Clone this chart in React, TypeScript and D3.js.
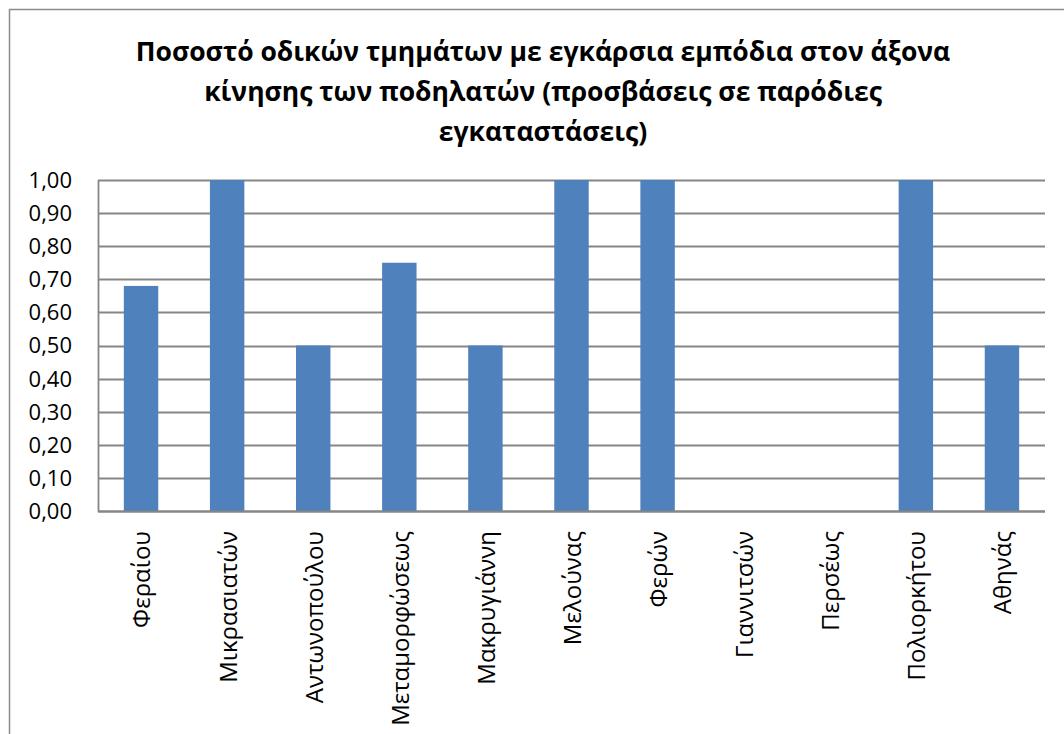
import { useEffect, useRef } from 'react';
import * as d3 from 'd3';

const categories = [
  'Φεραίου',
  'Μικρασιατών',
  'Αντωνοπούλου',
  'Μεταμορφώσεως',
  'Μακρυγιάννη',
  'Μελούνας',
  'Φερών',
  'Γιαννιτσών',
  'Περσέως',
  'Πολιορκήτου',
  'Αθηνάς',
];

const values = [0.68, 1.0, 0.5, 0.75, 0.5, 1.0, 1.0, 0, 0, 1.0, 0.5];

const yTicks = [0, 0.1, 0.2, 0.3, 0.4, 0.5, 0.6, 0.7, 0.8, 0.9, 1.0];

const titleLines = [
  'Ποσοστό οδικών τμημάτων με εγκάρσια εμπόδια στον άξονα',
  'κίνησης των ποδηλατών (προσβάσεις σε παρόδιες',
  'εγκαταστάσεις)',
];

const WIDTH = 1064;
const HEIGHT = 734;
const FONT = '"Open Sans", "Noto Sans", sans-serif';

const App = () => {
  const svgRef = useRef<SVGSVGElement>(null);

  useEffect(() => {
    if (!svgRef.current) return;
    const svg = d3.select(svgRef.current);
    svg.selectAll('*').remove();

    const plot = { left: 98, right: 1045, top: 180, bottom: 511 };

    // outer chart frame (runs off the right / bottom edges)
    svg.append('rect')
      .attr('x', 9.5)
      .attr('y', 9.5)
      .attr('width', WIDTH + 20)
      .attr('height', HEIGHT + 20)
      .attr('fill', 'white')
      .attr('stroke', '#8c8c8c')
      .attr('stroke-width', 1.5);

    // title
    svg.append('g')
      .selectAll('text')
      .data(titleLines)
      .enter().append('text')
      .attr('x', 543)
      .attr('y', (d, i) => 61 + i * 40)
      .attr('text-anchor', 'middle')
      .style('font-family', FONT)
      .style('font-size', '26.5px')
      .style('font-weight', 700)
      .style('fill', '#000')
      .text(d => d);

    const x = d3.scaleBand<string>()
      .domain(categories)
      .range([plot.left, plot.right])
      .paddingInner(0.6)
      .paddingOuter(0.3);

    const y = d3.scaleLinear()
      .domain([0, 1])
      .range([plot.bottom, plot.top]);

    // gridlines
    svg.append('g')
      .selectAll('line')
      .data(yTicks)
      .enter().append('line')
      .attr('x1', plot.left)
      .attr('x2', plot.right)
      .attr('y1', d => Math.round(y(d)) + 0.5)
      .attr('y2', d => Math.round(y(d)) + 0.5)
      .attr('stroke', '#868686')
      .attr('stroke-width', 1.8);

    // left axis line
    svg.append('line')
      .attr('x1', plot.left + 0.5)
      .attr('x2', plot.left + 0.5)
      .attr('y1', plot.top)
      .attr('y2', plot.bottom + 1)
      .attr('stroke', '#868686')
      .attr('stroke-width', 1.8);

    // y tick labels
    svg.append('g')
      .selectAll('text')
      .data(yTicks)
      .enter().append('text')
      .attr('x', 72)
      .attr('y', d => y(d))
      .attr('dy', '0.36em')
      .attr('text-anchor', 'end')
      .style('font-family', FONT)
      .style('font-size', '22px')
      .style('fill', '#000')
      .text(d => d3.format('.2f')(d).replace('.', ','));

    // bars
    svg.append('g')
      .selectAll('rect')
      .data(values)
      .enter().append('rect')
      .attr('x', (d, i) => x(categories[i])!)
      .attr('y', d => y(d))
      .attr('width', x.bandwidth())
      .attr('height', d => y(0) - y(d))
      .attr('fill', '#4f81bd');

    // bottom axis line on top of bars
    svg.append('line')
      .attr('x1', plot.left)
      .attr('x2', plot.right)
      .attr('y1', plot.bottom + 0.5)
      .attr('y2', plot.bottom + 0.5)
      .attr('stroke', '#868686')
      .attr('stroke-width', 1.8);

    // category labels, rotated
    svg.append('g')
      .selectAll('text')
      .data(categories)
      .enter().append('text')
      .attr('transform', d => `translate(${x(d)! + x.bandwidth() / 2 + 1},${plot.bottom + 20}) rotate(-90)`)
      .attr('dy', '0.35em')
      .attr('text-anchor', 'end')
      .style('font-family', FONT)
      .style('font-size', '24px')
      .style('fill', '#000')
      .text(d => d);
  }, []);

  return (
    <svg
      ref={svgRef}
      width={WIDTH}
      height={HEIGHT}
      style={{ position: 'absolute', left: 0, top: 0, background: 'white' }}
    />
  );
};

export default App;
